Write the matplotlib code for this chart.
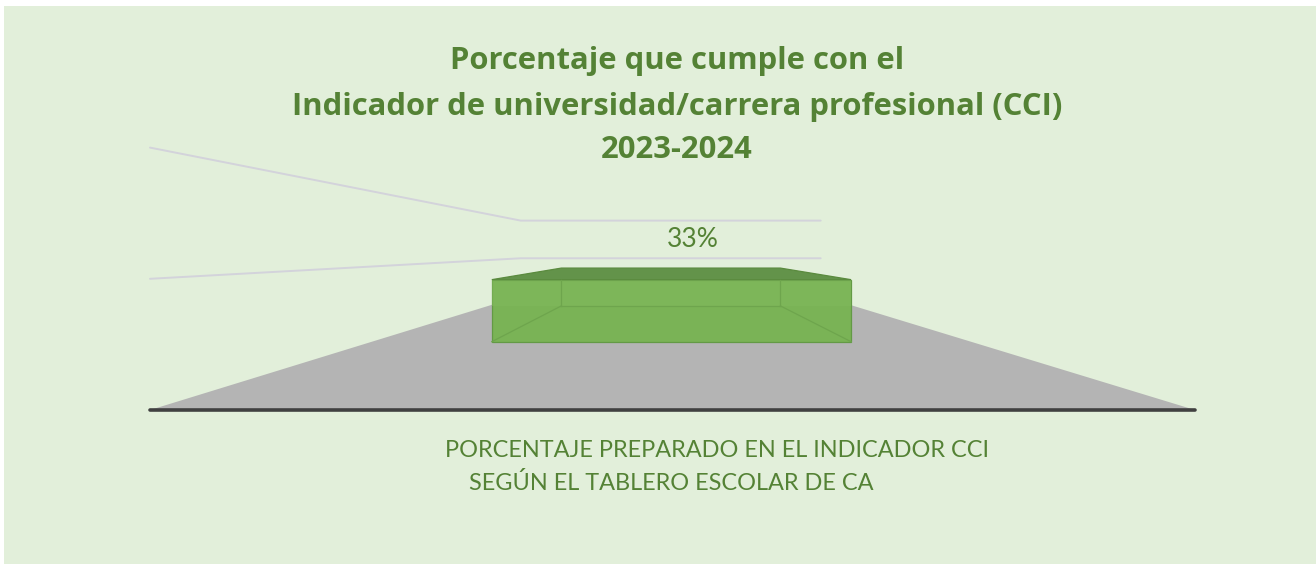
import numpy as np
import matplotlib.pyplot as plt
from matplotlib.patches import Polygon, Rectangle


# data
title_lines = ['Porcentaje que cumple con el',
               'Indicador de universidad/carrera profesional (CCI)',
               '2023-2024']
category_lines = ['PORCENTAJE PREPARADO EN EL INDICADOR CCI',
                  'SEGÚN EL TABLERO ESCOLAR DE CA']
values = [0.33]
value_labels = ['33%']
gridlines = [0.4, 0.8]

bg = '#E2EFDA'
text_green = '#548235'

plt.rcParams['font.family'] = ['Lato', 'DejaVu Sans']

# simple one point perspective, all in pixels
vp = np.array([670.0, 250.0])
floor_y = 410
x_left, x_right = 150, 1195
px_per_unit = 328
k = 2.484          # back wall at depth 1 -> scale 0.287
bar_frac = 0.6
d_front, d_back = 0.30, 0.75


def project(x, d, z):
    s = 1.0 / (1.0 + k * d)
    y = floor_y - z * px_per_unit
    return (vp[0] + (x - vp[0]) * s, vp[1] + (y - vp[1]) * s)


def face(pts):
    return [project(*p) for p in pts]


fig = plt.figure(figsize=(13.16, 5.64), dpi=100)
fig.patch.set_facecolor('white')
ax = fig.add_axes([0, 0, 1, 1])
ax.set_xlim(0, 1316)
ax.set_ylim(564, 0)
ax.axis('off')

ax.add_patch(Rectangle((4, 6), 1312, 558, facecolor=bg, edgecolor='none', zorder=0))

# walls: gridlines on side wall and back wall
grid_c = '#D3D3DB'
for g in gridlines:
    side = face([(x_left, 0, g), (x_left, 1, g), (x_right, 1, g)])
    ax.plot([p[0] for p in side], [p[1] for p in side], color=grid_c, lw=1.4, zorder=1,
            solid_capstyle='round')

# floor
floor = face([(x_left, 0, 0), (x_right, 0, 0), (x_right, 1, 0), (x_left, 1, 0)])
ax.add_patch(Polygon(floor, closed=True, facecolor='#B4B4B4', edgecolor='none', zorder=2))
ax.plot([x_left, x_right], [floor_y, floor_y], color='#404040', lw=2.6, zorder=3,
        solid_capstyle='round')

# bars
n = len(values)
slot = (x_right - x_left) / n
for i, v in enumerate(values):
    cx = x_left + (i + 0.5) * slot
    x0, x1 = cx - bar_frac * slot / 2, cx + bar_frac * slot / 2

    front = face([(x0, d_front, 0), (x1, d_front, 0), (x1, d_front, v), (x0, d_front, v)])
    top = face([(x0, d_front, v), (x1, d_front, v), (x1, d_back, v), (x0, d_back, v)])
    back = face([(x0, d_back, 0), (x1, d_back, 0), (x1, d_back, v), (x0, d_back, v)])

    ax.add_patch(Polygon(front, closed=True, facecolor='#7AB356', edgecolor='#639A45',
                         lw=0.9, zorder=4))
    # lighter band where the back face shows through
    band = [(front[0][0], front[3][1]), (front[1][0], front[3][1]),
            (front[1][0], back[0][1]), (front[0][0], back[0][1])]
    ax.add_patch(Polygon(band, closed=True, facecolor='#80B95C', edgecolor='none',
                         alpha=0.6, zorder=4))
    ax.add_patch(Polygon(top, closed=True, facecolor='#63934A', edgecolor='#5A8A3E',
                         lw=0.9, zorder=5))

    # hidden edges seen through the glassy bar
    inner = '#6EA54D'
    ax.plot([back[0][0], back[1][0]], [back[0][1], back[0][1]], color=inner, lw=0.9, zorder=5)
    ax.plot([back[0][0], back[0][0]], [front[3][1], back[0][1]], color=inner, lw=0.9, zorder=5)
    ax.plot([back[1][0], back[1][0]], [front[3][1], back[1][1]], color=inner, lw=0.9, zorder=5)
    ax.plot([front[0][0], back[0][0]], [front[0][1], back[0][1]], color=inner, lw=0.9, zorder=5)
    ax.plot([front[1][0], back[1][0]], [front[1][1], back[1][1]], color=inner, lw=0.9, zorder=5)

    lx, ly = project(cx, d_back, v)
    ax.text(lx + 22, ly - 21, value_labels[i], ha='center', va='baseline',
            fontsize=19, color=text_green, zorder=6)

# title
for line, y in zip(title_lines, [69, 115, 158]):
    ax.text(677, y, line, ha='center', va='baseline', fontsize=22.3,
            fontweight='bold', color=text_green, family=['Open Sans', 'DejaVu Sans'])

# category axis label
for line, x, y in zip(category_lines, [445, 469], [457, 490]):
    ax.text(x, y, line, ha='left', va='baseline', fontsize=16.9, color=text_green)

fig.savefig('out.png', dpi=100)
